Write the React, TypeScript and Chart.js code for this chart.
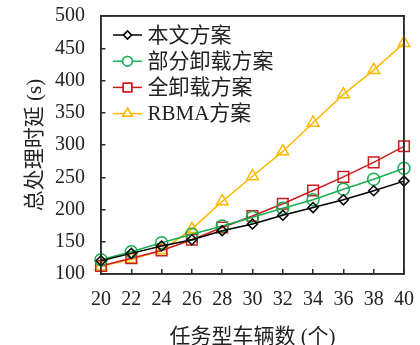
import React, { useEffect, useRef } from "react";
import { Chart, registerables } from "chart.js";
import { drawPoint } from "chart.js/helpers";

Chart.register(...registerables);

const vehicleCounts = [20, 22, 24, 26, 28, 30, 32, 34, 36, 38, 40];
const proposed = [120.5, 132, 143.5, 153, 167, 177.5, 191, 203, 215, 229, 244];
const partialOffload = [122, 134.5, 148.5, 161.5, 174.5, 188, 202, 215, 231.5, 247, 264];
const fullOffload = [112.5, 124.5, 136.5, 153, 172, 190, 209, 229.5, 250.5, 273, 298];
const rbma = [112, 123, 136.5, 169.5, 212.5, 251.5, 290, 334.5, 378.5, 416, 458];

const seriesNames = ["本文方案", "部分卸载方案", "全卸载方案", "RBMA方案"];
const seriesColors = ["#000000", "#19ae52", "#cc1c1c", "#ffb800"];
const seriesMarkers = ["rectRot", "circle", "rect", "triangle"];
const markerRadius = [5, 6, 7.5, 6.8];
const yTicks = [100, 150, 200, 250, 300, 350, 400, 450, 500];

const SERIF = "'Liberation Serif', 'Noto Sans CJK SC', serif";
const AXIS = "#2a2a2a";

const legendPlugin = {
  id: "innerLegend",
  afterDatasetsDraw(chart: any) {
    const ctx = chart.ctx;
    ctx.save();
    chart.data.datasets.forEach((ds: any, i: number) => {
      const y = 35 + i * 26.2;
      ctx.strokeStyle = ds.borderColor;
      ctx.lineWidth = 1.5;
      ctx.beginPath();
      ctx.moveTo(113, y);
      ctx.lineTo(142, y);
      ctx.stroke();
      ctx.fillStyle = "rgba(255,255,255,1)";
      drawPoint(ctx, { pointStyle: ds.pointStyle, radius: ds.pointRadius * 0.8, rotation: 0, borderWidth: 1.5 } as any, 127.5, y);
      ctx.fill();
      ctx.stroke();
      ctx.fillStyle = "#222";
      ctx.font = `21px ${SERIF}`;
      ctx.textBaseline = "middle";
      ctx.textAlign = "left";
      ctx.fillText(ds.label, 147.5, y + 1);
    });
    ctx.restore();
  },
  afterDraw(chart: any) {
    const ctx = chart.ctx;
    const a = chart.chartArea;
    if (!a) return;
    ctx.save();
    ctx.strokeStyle = AXIS;
    ctx.lineWidth = 1.5;
    ctx.strokeRect(a.left, a.top, a.right - a.left, a.bottom - a.top);
    ctx.restore();
  },
};

function zeroPad(s: any) {
  s.paddingTop = 0;
  s.paddingBottom = 0;
  s.paddingLeft = 0;
  s.paddingRight = 0;
}

export default function App() {
  const ref = useRef<HTMLCanvasElement | null>(null);
  useEffect(() => {
    if (!ref.current) return;
    const all = [proposed, partialOffload, fullOffload, rbma];
    const chart = new Chart(ref.current, {
      type: "line",
      data: {
        datasets: all.map((arr, i) => ({
          label: seriesNames[i],
          data: arr.map((v, j) => ({ x: vehicleCounts[j], y: v })),
          borderColor: seriesColors[i],
          backgroundColor: "rgba(0,0,0,0)",
          pointBackgroundColor: "rgba(0,0,0,0)",
          pointBorderColor: seriesColors[i],
          pointStyle: seriesMarkers[i] as any,
          pointRadius: markerRadius[i],
          pointBorderWidth: 1.5,
          borderWidth: 1.5,
          tension: 0,
          clip: false as any,
          xAxisID: "x",
          yAxisID: "y",
        })),
      },
      options: {
        animation: false,
        responsive: true,
        maintainAspectRatio: false,
        layout: { padding: { top: 16, right: 16, left: 0, bottom: 0 } },
        plugins: { legend: { display: false }, tooltip: { enabled: false } },
        scales: {
          x: {
            type: "linear",
            position: "bottom",
            min: 20,
            max: 40,
            grid: { display: true, drawOnChartArea: false, drawTicks: true, tickLength: -5, color: AXIS, lineWidth: 1.5 },
            border: { display: true, color: AXIS, width: 1.5 },
            ticks: {
              stepSize: 2,
              padding: 19,
              color: "#222",
              font: { family: SERIF, size: 20 },
              maxRotation: 0,
            },
            title: {
              display: true,
              text: "任务型车辆数 (个)",
              color: "#222",
              font: { family: SERIF, size: 21 },
              padding: { top: 0, bottom: -5 },
            },
            afterFit: (s: any) => {
              s.height = 71;
              zeroPad(s);
            },
          },
          x2: {
            type: "linear",
            position: "top",
            min: 20,
            max: 40,
            grid: { display: false, drawTicks: false },
            border: { display: true, color: AXIS, width: 1.5 },
            ticks: { display: false },
            afterFit: (s: any) => {
              s.height = 0;
              zeroPad(s);
            },
          },
          y: {
            position: "left",
            min: 100,
            max: 500,
            grid: { display: true, drawOnChartArea: false, drawTicks: true, tickLength: -4.5, color: AXIS, lineWidth: 1.5 },
            border: { display: true, color: AXIS, width: 1.5 },
            afterBuildTicks: (s: any) => {
              s.ticks = yTicks.map((v) => ({ value: v }));
            },
            ticks: {
              padding: 20.5,
              color: "#222",
              font: { family: SERIF, size: 20 },
            },
            title: {
              display: true,
              text: "总处理时延 (s)",
              color: "#222",
              font: { family: SERIF, size: 21 },
              padding: { top: 23, bottom: 0 },
            },
            afterFit: (s: any) => {
              s.width = 101;
              zeroPad(s);
            },
          },
          y2: {
            position: "right",
            min: 100,
            max: 500,
            grid: { display: false, drawTicks: false },
            border: { display: true, color: AXIS, width: 1.5 },
            ticks: { display: false },
            afterFit: (s: any) => {
              s.width = 0;
              zeroPad(s);
            },
          },
        },
      },
      plugins: [legendPlugin],
    });
    return () => chart.destroy();
  }, []);
  return (
    <div style={{ position: "fixed", left: 0, top: 0, width: 420, height: 345, background: "#fff" }}>
      <canvas ref={ref} />
    </div>
  );
}
